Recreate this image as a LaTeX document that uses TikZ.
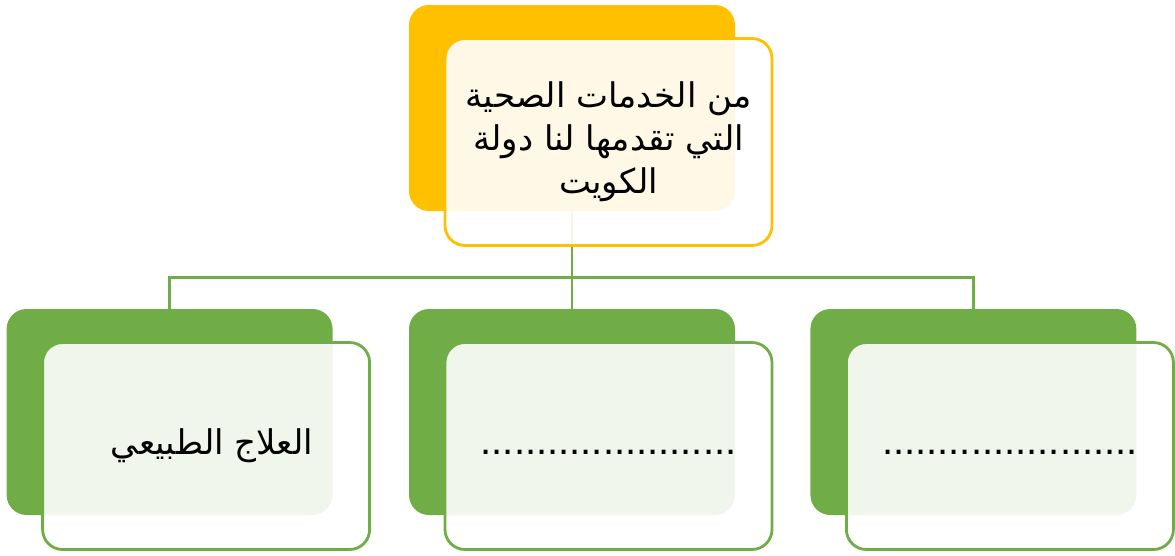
\documentclass[tikz,border=0pt]{standalone}
\usepackage{fontspec}
\setmainfont{Liberation Sans}
\newfontfamily\arabicfont[Script=Arabic]{DejaVu Sans}
\TeXXeTstate=1
\usetikzlibrary{positioning}

\begin{document}
\begin{tikzpicture}
			[x=1pt,y=-1pt,line cap=round,
			%Styles
			back box/.style={rectangle,rounded corners=20pt,inner sep=0pt,
				minimum width=326pt,minimum height=206pt,fill=#1},
			front box/.style={rectangle,rounded corners=20pt,inner sep=0pt,
				minimum width=327pt,minimum height=207pt,draw=#1,line width=2.8pt,
				fill=white,fill opacity=0.9,text opacity=1,align=center,
				font=\arabicfont\fontsize{34}{43}\selectfont},
			dots/.style={font=\normalfont\fontsize{40}{43}\selectfont},
			link/.style={draw=leafgreen,line width=2.8pt}
			]
			
			%Colors
			\colorlet{sunorange}{rgb,255:red,255;green,192;blue,0}	%top box
			\colorlet{leafgreen}{rgb,255:red,112;green,173;blue,71}	%lower boxes, lines
			
			\useasboundingbox (0,0) rectangle (1175,555);
			
			%The graphic
			\node [back box=sunorange] (topback) at (572,108) {};
			\node [back box=leafgreen] (midback) at (572,412) {};
			\node [back box=leafgreen,left=76pt of midback] (leftback) {};
			\node [back box=leafgreen,right=75pt of midback] (rightback) {};
			
			\draw[link] (topback.south) -- ++(0,66) coordinate (hub);
			\draw[link] (hub) -| (leftback.north);
			\draw[link] (hub) -- (midback.north);
			\draw[link] (hub) -| (rightback.north);
			
			\node [front box=sunorange] (topfront) at ([shift={(36.5,34)}]topback.center)
				{\beginR من الخدمات الصحية\endR\\\beginR التي تقدمها لنا دولة\endR\\\beginR الكويت\endR};
			\node [front box=leafgreen] (leftfront) at ([shift={(36.5,34)}]leftback.center)
				{\hspace*{12pt}\beginR العلاج الطبيعي\endR};
			\node [front box=leafgreen,dots] (midfront) at ([shift={(36.5,34)}]midback.center)
				{\strut.......................};
			\node [front box=leafgreen,dots] (rightfront) at ([shift={(36.5,34)}]rightback.center)
				{\strut.......................};
		\end{tikzpicture}
\end{document}
